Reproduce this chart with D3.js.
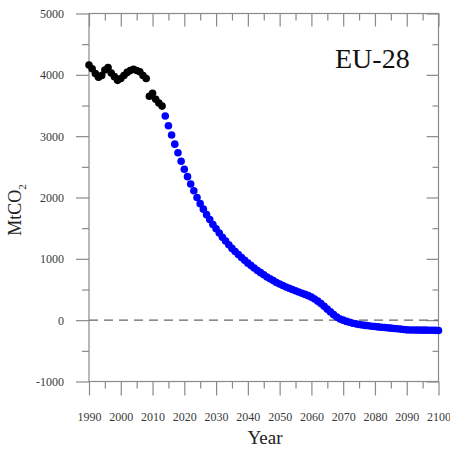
<!DOCTYPE html>
<html>
<head>
<meta charset="utf-8">
<script src="https://cdn.jsdelivr.net/npm/d3@7"></script>
<style>
  body { margin: 0; background: #fff; }
  svg { display: block; font-family: "Liberation Serif", "Times New Roman", serif; }
</style>
</head>
<body>
<svg id="chart" width="450" height="449"></svg>
<script>
// historical emissions (black)
const histYears = d3.range(1990, 2014);
const histValues = [4160, 4100, 4020, 3960, 3990, 4080, 4120, 4030, 3970, 3910,
    3940, 3990, 4040, 4070, 4090, 4070, 4050, 3990, 3940, 3650, 3700, 3600, 3540, 3490];

// projected pathway (blue)
const projYears = d3.range(2014, 2101);
const projValues = [3330, 3170, 3020, 2870, 2730, 2590, 2460, 2340, 2220, 2110,
    2000, 1900, 1810, 1720, 1640, 1560, 1490, 1420, 1350, 1290,
    1230, 1170, 1120, 1070, 1020, 975, 930, 890, 850, 810,
    775, 740, 705, 675, 645, 615, 590, 565, 540, 520,
    500, 480, 460, 440, 420, 400, 375, 345, 310, 270,
    225, 180, 135, 90, 50, 20, 0, -20, -35, -50,
    -60, -70, -78, -85, -92, -98, -104, -110, -115, -120,
    -125, -130, -135, -140, -146, -152, -158, -160, -161, -162,
    -162, -163, -163, -164, -165, -166, -168];

const xMajor = d3.range(1990, 2101, 10);
const xMinor = d3.range(1995, 2100, 10);
const yMajor = [-1000, 0, 1000, 2000, 3000, 4000, 5000];
const yMinor = [-500, 500, 1500, 2500, 3500, 4500];

const svg = d3.select("#chart");
const plotLeft = 89, plotRight = 438.5, plotTop = 13.5, plotBottom = 381.5;

const x = d3.scaleLinear().domain([1990, 2100]).range([plotLeft, plotRight]);
const y = d3.scaleLinear().domain([-1000, 5000]).range([plotBottom, plotTop]);

const axisColor = "#8a8a8a";
const labelColor = "#3a3a3a";
const plainNumber = d => String(d);  // keep a hyphen for negatives like the original

const styleAxis = (g) => {
    g.select(".domain").remove();
    g.selectAll(".tick line").attr("stroke", axisColor).attr("stroke-width", 1.2);
    g.selectAll(".tick text")
        .attr("fill", labelColor)
        .style("font-family", "'Liberation Serif', serif")
        .style("font-size", "12px");
};

// bottom axis (outward ticks)
svg.append("g").attr("transform", `translate(0,${plotBottom})`)
    .call(d3.axisBottom(x).tickValues(xMajor).tickSize(14).tickPadding(17).tickFormat(plainNumber))
    .call(styleAxis);
svg.append("g").attr("transform", `translate(0,${plotBottom})`)
    .call(d3.axisBottom(x).tickValues(xMinor).tickSize(7).tickFormat(""))
    .call(styleAxis);

// top axis (inward ticks)
svg.append("g").attr("transform", `translate(0,${plotTop})`)
    .call(d3.axisBottom(x).tickValues(xMajor).tickSize(13).tickFormat(""))
    .call(styleAxis);
svg.append("g").attr("transform", `translate(0,${plotTop})`)
    .call(d3.axisBottom(x).tickValues(xMinor).tickSize(7).tickFormat(""))
    .call(styleAxis);

// left axis (outward ticks)
svg.append("g").attr("transform", `translate(${plotLeft},0)`)
    .call(d3.axisLeft(y).tickValues(yMajor).tickSize(13).tickPadding(12).tickFormat(plainNumber))
    .call(styleAxis);
svg.append("g").attr("transform", `translate(${plotLeft},0)`)
    .call(d3.axisLeft(y).tickValues(yMinor).tickSize(7).tickFormat(""))
    .call(styleAxis);

// right axis (inward ticks)
svg.append("g").attr("transform", `translate(${plotRight},0)`)
    .call(d3.axisLeft(y).tickValues(yMajor).tickSize(12).tickFormat(""))
    .call(styleAxis);
svg.append("g").attr("transform", `translate(${plotRight},0)`)
    .call(d3.axisLeft(y).tickValues(yMinor).tickSize(6).tickFormat(""))
    .call(styleAxis);

// frame
svg.append("rect")
    .attr("x", plotLeft).attr("y", plotTop)
    .attr("width", plotRight - plotLeft).attr("height", plotBottom - plotTop)
    .attr("fill", "none")
    .attr("stroke", axisColor)
    .attr("stroke-width", 1.2);

// zero line
svg.append("line")
    .attr("x1", plotLeft).attr("x2", plotRight)
    .attr("y1", y(0)).attr("y2", y(0))
    .attr("stroke", "#666")
    .attr("stroke-width", 1.2)
    .attr("stroke-dasharray", "9,6");

// points
const hist = histYears.map((yr, i) => ({ year: yr, value: histValues[i] }));
const proj = projYears.map((yr, i) => ({ year: yr, value: projValues[i] }));

svg.append("g").selectAll("circle")
    .data(proj)
    .join("circle")
    .attr("cx", d => x(d.year))
    .attr("cy", d => y(d.value))
    .attr("r", 3.8)
    .attr("fill", "#0000ff");

svg.append("g").selectAll("circle")
    .data(hist)
    .join("circle")
    .attr("cx", d => x(d.year))
    .attr("cy", d => y(d.value))
    .attr("r", 3.8)
    .attr("fill", "#000");

// title
svg.append("text")
    .attr("x", 335).attr("y", 68)
    .attr("fill", "#111")
    .style("font-size", "28px")
    .text("EU-28");

// axis labels
svg.append("text")
    .attr("x", 265).attr("y", 444)
    .attr("text-anchor", "middle")
    .attr("fill", "#222")
    .style("font-size", "19px")
    .text("Year");

const yLab = svg.append("text")
    .attr("transform", "translate(21,210) rotate(-90)")
    .attr("text-anchor", "middle")
    .attr("fill", "#222")
    .style("font-size", "18px");
yLab.append("tspan").text("MtCO");
yLab.append("tspan").attr("dy", 5).style("font-size", "11px").text("2");
</script>
</body>
</html>
